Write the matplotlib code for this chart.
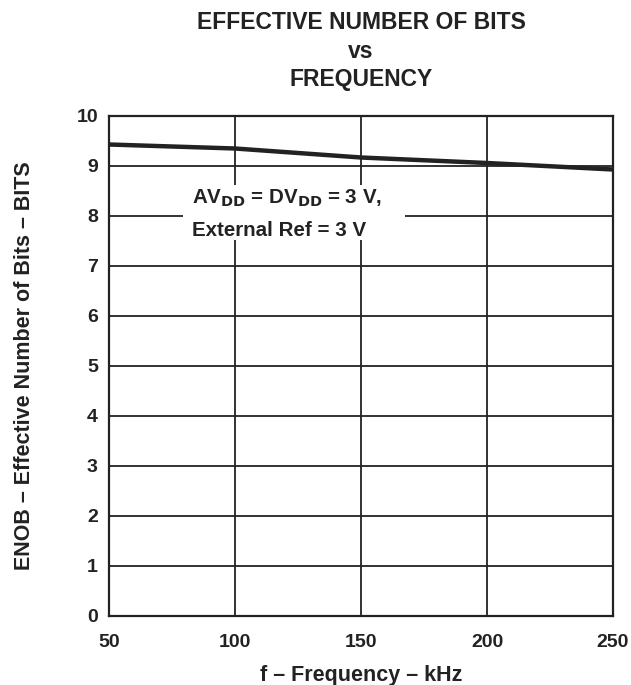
import matplotlib
matplotlib.use("Agg")
import matplotlib.pyplot as plt
from matplotlib.patches import Rectangle

plt.rcParams['font.family'] = ['Liberation Sans', 'DejaVu Sans']
plt.rcParams['font.weight'] = 'bold'

freq_khz = [50, 100, 150, 200, 250]
enob_bits = [9.43, 9.35, 9.17, 9.06, 8.93]
x_ticks = [50, 100, 150, 200, 250]
y_ticks = [0, 1, 2, 3, 4, 5, 6, 7, 8, 9, 10]
note_lines = ['AV$_{\\mathbf{DD}}$ = DV$_{\\mathbf{DD}}$ = 3 V,', 'External Ref = 3 V']

INK = '#222222'
W, H = 631, 685
fig = plt.figure(figsize=(W / 100, H / 100), dpi=100)
left, right, top, bottom = 109, 613, 116, 616
ax = fig.add_axes([left / W, 1 - bottom / H, (right - left) / W, (bottom - top) / H])

ax.plot(freq_khz, enob_bits, color=INK, lw=3.2, solid_capstyle='butt', zorder=3)

ax.set_xlim(50, 250)
ax.set_ylim(0, 10)
ax.set_xticks(x_ticks)
ax.set_yticks(y_ticks)
ax.grid(True, color=INK, lw=1.3)
for s in ax.spines.values():
    s.set_linewidth(1.6)
    s.set_color(INK)
ax.tick_params(length=0, labelsize=14, colors=INK)
ax.tick_params(axis='x', pad=13)
ax.tick_params(axis='y', pad=8)
for lab in ax.get_xticklabels() + ax.get_yticklabels():
    lab.set_fontweight('bold')

ax.set_xlabel('f – Frequency – kHz', fontsize=15.5, fontweight='bold', labelpad=10, color=INK)
ax.set_ylabel('ENOB – Effective Number of Bits – BITS', fontsize=15.5, fontweight='bold', labelpad=30, color=INK)

fig.text(361 / W, 1 - 51 / H, 'EFFECTIVE NUMBER OF BITS\nvs\nFREQUENCY', ha='center', va='center',
         fontsize=16.5, fontweight='bold', linespacing=1.32, color=INK)

# white background behind the annotation (hides the grid there)
ax.add_patch(Rectangle((0.147, 0.752), 0.44, 0.11, transform=ax.transAxes,
                       facecolor='white', edgecolor='none', zorder=2.5))
ax.text(0.165, 0.826, note_lines[0], transform=ax.transAxes, ha='left', va='baseline',
        fontsize=14.8, fontweight='bold', color=INK, zorder=4)
ax.text(0.165, 0.76, note_lines[1], transform=ax.transAxes, ha='left', va='baseline',
        fontsize=14.8, fontweight='bold', color=INK, zorder=4)

fig.savefig('out.png', dpi=100)
